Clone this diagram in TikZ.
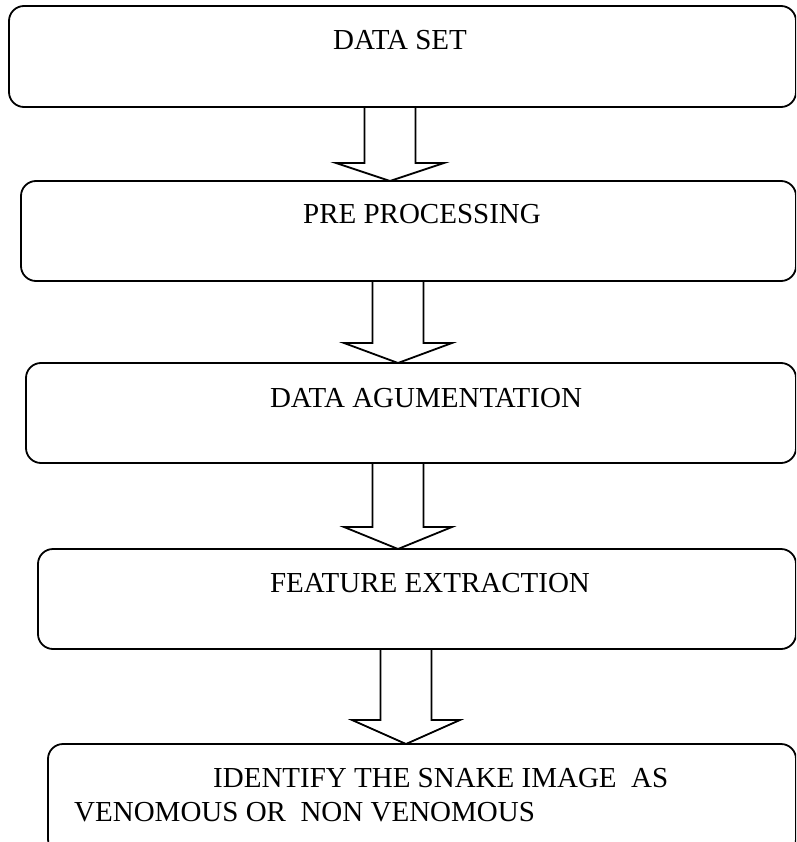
\documentclass[tikz,border=0pt]{standalone}
\usepackage{fontspec}
\setmainfont{Liberation Serif}
\usetikzlibrary{calc}
\tikzset{
  stage/.style={draw, line width=1.8pt, rounded corners=15pt, anchor=north west,
    inner sep=0pt, outer sep=0pt, minimum height=100pt},
  stagetext/.style={font=\fontsize{29}{34}\selectfont, inner sep=0pt, anchor=base},
  fatarrow/.style={draw, line width=1.8pt, line join=miter}
}
\begin{document}
\begin{tikzpicture}[x=1pt,y=-1pt]
  \clip (0,0) rectangle (796,842);

  % Stage boxes (right edges run off the page)
  \node[stage, minimum width=787pt, minimum height=101pt] (b1) at (9,6) {};
  \node[stage, minimum width=775pt] (b2) at (21,181) {};
  \node[stage, minimum width=770pt] (b3) at (26,363) {};
  \node[stage, minimum width=758pt] (b4) at (38,549) {};
  \node[stage, minimum width=748pt, minimum height=110pt] (b5) at (48,744) {};

  % Labels
  \node[stagetext] (t1) at (400,50) {DATA SET};
  \node[stagetext] (t2) at (422,223) {PRE PROCESSING};
  \node[stagetext] (t3) at (426,407) {DATA AGUMENTATION};
  \node[stagetext] (t4) at (430,592) {FEATURE EXTRACTION};
  % base west sits on the last line here
  \node[stagetext, anchor=base west, align=left] (t5) at (74,821)
    {\hspace*{139pt}IDENTIFY THE SNAKE IMAGE\ \ AS\\VENOMOUS OR\ \ NON VENOMOUS};

  % Hollow block arrows: from/to/centre x/neck y
  \foreach \from/\to/\mid/\neck in {b1/b2/390/163, b2/b3/398/343, b3/b4/398/527, b4/b5/406/720}{
    \pgfmathsetmacro\sl{\mid-25.5}
    \pgfmathsetmacro\sr{\mid+25.5}
    \pgfmathsetmacro\hl{\mid-54}
    \pgfmathsetmacro\hr{\mid+54}
    \draw[fatarrow] (\from.south -| \sl,0) -- (\sl,\neck) -- (\hl,\neck)
      -- (\to.north -| \mid,0) -- (\hr,\neck) -- (\sr,\neck) -- (\sr,0 |- \from.south);
  }
\end{tikzpicture}
\end{document}
